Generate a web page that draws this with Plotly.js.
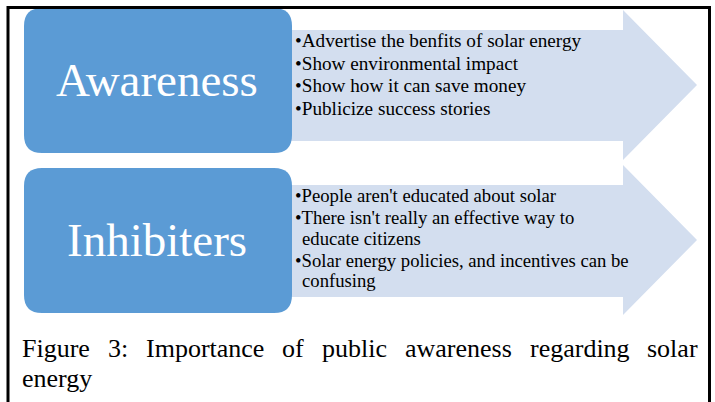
<!DOCTYPE html>
<html>
<head>
<meta charset="utf-8">
<script src="https://cdn.plot.ly/plotly-3.0.1.min.js"></script>
<style>
  html, body { margin: 0; padding: 0; background: #fff; }
  #chart { width: 715px; height: 402px; }
</style>
</head>
<body>
<div id="chart"></div>
<script>
// Text content of the diagram
const panelLabels = ['Awareness', 'Inhibiters'];
const awarenessItems = [
  ['Advertise the benfits of solar energy'],
  ['Show environmental impact'],
  ['Show how it can save money'],
  ['Publicize success stories']
];
const inhibiterItems = [
  ["People aren't educated about solar"],
  ["There isn't really an effective way to", 'educate citizens'],
  ['Solar energy policies, and incentives can be', 'confusing']
];
const captionLines = ['Figure 3: Importance of public awareness regarding solar', 'energy'];

const W = 715;
const H = 402;
const serif = 'Liberation Serif, Times New Roman, serif';
const boxBlue = '#5b9bd5';
const arrowFill = '#d3deef';

// Layout of the two rows (pixel space)
const rows = [
  {items: awarenessItems, top: 8, bottom: 153, bodyTop: 30, bodyBottom: 141, headTop: 10, headBottom: 160,
    firstBaseline: 47, lineStep: 22.7, itemGap: 0, size: 19.2},
  {items: inhibiterItems, top: 168, bottom: 313, bodyTop: 185, bodyBottom: 297, headTop: 165, headBottom: 315,
    firstBaseline: 202, lineStep: 20.3, itemGap: 1.8, size: 18.7}
];
const boxLeft = 24;
const boxRight = 292;
const radius = 18;
const headX = 623;
const tipX = 697;

function roundedRect(x0, y0, x1, y1, r) {
  return `M${x0 + r},${y0} L${x1 - r},${y0} Q${x1},${y0} ${x1},${y0 + r} ` +
    `L${x1},${y1 - r} Q${x1},${y1} ${x1 - r},${y1} L${x0 + r},${y1} Q${x0},${y1} ${x0},${y1 - r} ` +
    `L${x0},${y0 + r} Q${x0},${y0} ${x0 + r},${y0} Z`;
}

function arrowPath(row) {
  const mid = (row.headTop + row.headBottom) / 2;
  return `M${boxRight - 10},${row.bodyTop} L${headX},${row.bodyTop} L${headX},${row.headTop} ` +
    `L${tipX},${mid} L${headX},${row.headBottom} L${headX},${row.bodyBottom} L${boxRight - 10},${row.bodyBottom} Z`;
}

// baseline -> centre of an annotation box for Liberation Serif
function mid(baseline, size) {
  return baseline - 0.3375 * size;
}

function textNote(text, x, y, size, color, xanchor) {
  return {
    x: x, y: y, xref: 'x', yref: 'y', text: text, showarrow: false,
    xanchor: xanchor || 'left', yanchor: 'middle', borderpad: 0,
    font: {family: serif, size: size, color: color || '#000'}
  };
}

let shapes = [];
let annotations = [];

rows.forEach(function (row, i) {
  shapes.push({type: 'path', path: arrowPath(row), xref: 'x', yref: 'y', fillcolor: arrowFill, line: {width: 0}, layer: 'above'});
  shapes.push({type: 'path', path: roundedRect(boxLeft, row.top, boxRight, row.bottom, radius), xref: 'x', yref: 'y',
    fillcolor: boxBlue, line: {width: 0}, layer: 'above'});

  const labelSize = 47;
  annotations.push(textNote(panelLabels[i], (boxLeft + boxRight) / 2 - 1, mid((row.top + row.bottom) / 2 + 15, labelSize), labelSize, '#fff', 'center'));

  let baseline = row.firstBaseline;
  row.items.forEach(function (lines) {
    lines.forEach(function (line, j) {
      if (j === 0) annotations.push(textNote('•' + line, 294, mid(baseline, row.size), row.size));
      else annotations.push(textNote(line, 301, mid(baseline, row.size), row.size));
      baseline += row.lineStep;
    });
    baseline += row.itemGap;
  });
});

// Justified caption: spread the words of the first line between the margins
const capSize = 26;
const capLeft = 21;
const capRight = 697;
const capBaselines = [357, 387];
const ctx = document.createElement('canvas').getContext('2d');
ctx.font = capSize + "px 'Liberation Serif'";
captionLines.forEach(function (line, i) {
  const words = line.split(' ');
  if (i === captionLines.length - 1 || words.length < 2) {
    annotations.push(textNote(line, capLeft, mid(capBaselines[i], capSize), capSize));
    return;
  }
  const widths = words.map((w) => ctx.measureText(w).width);
  const total = widths.reduce((a, b) => a + b, 0);
  const gap = (capRight - capLeft - total) / (words.length - 1);
  let x = capLeft;
  words.forEach(function (w, k) {
    annotations.push(textNote(w, x, mid(capBaselines[i], capSize), capSize));
    x += widths[k] + gap;
  });
});

// Frame round the figure (open at the bottom edge of the image)
shapes.push({type: 'path', path: `M8,${H + 5} L8,7.5 L709.5,7.5 L709.5,${H + 5}`, xref: 'x', yref: 'y',
  line: {color: '#000', width: 3}, layer: 'above'});

const layout = {
  width: W,
  height: H,
  margin: {l: 0, r: 0, t: 0, b: 0, pad: 0},
  paper_bgcolor: '#fff',
  plot_bgcolor: '#fff',
  showlegend: false,
  xaxis: {range: [0, W], visible: false, fixedrange: true},
  yaxis: {range: [H, 0], visible: false, fixedrange: true},
  shapes: shapes,
  annotations: annotations
};

Plotly.newPlot('chart', [], layout, {displayModeBar: false, staticPlot: true});
</script>
</body>
</html>
